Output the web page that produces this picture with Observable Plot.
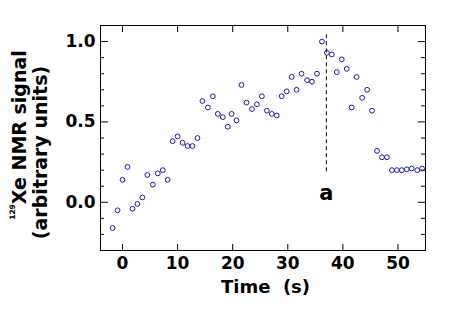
<!DOCTYPE html>
<html><head><meta charset="utf-8">
<script src="https://cdn.jsdelivr.net/npm/d3@7"></script>
<script src="https://cdn.jsdelivr.net/npm/@observablehq/plot@0.6"></script>
<style>body{margin:0;background:#fff}</style>
</head><body><div id="chart"></div>
<script>
const time = [-1.8,-0.9,0,0.9,1.8,2.7,3.6,4.5,5.5,6.4,7.3,8.2,9.1,10,10.9,11.8,12.7,13.6,14.5,15.5,16.4,17.3,18.2,19.1,19.8,20.7,21.6,22.5,23.5,24.4,25.3,26.2,27.1,28.0,28.9,29.8,30.7,31.6,32.5,33.5,34.4,35.3,36.2,37.1,38.0,38.9,39.8,40.7,41.6,42.5,43.5,44.4,45.3,46.2,47.1,48.0,48.9,49.8,50.7,51.6,52.5,53.5,54.4];
const signal = [-0.16,-0.05,0.14,0.22,-0.04,-0.01,0.03,0.17,0.11,0.18,0.20,0.14,0.38,0.41,0.37,0.35,0.35,0.40,0.63,0.59,0.66,0.55,0.53,0.47,0.55,0.51,0.73,0.62,0.58,0.61,0.66,0.57,0.55,0.54,0.66,0.69,0.78,0.70,0.80,0.76,0.75,0.80,1.00,0.93,0.92,0.81,0.89,0.83,0.59,0.78,0.65,0.70,0.57,0.32,0.28,0.28,0.20,0.20,0.20,0.205,0.21,0.20,0.21];
const xTicks = [0,10,20,30,40,50];
const yMajor = [0,0.5,1.0];
const yMinor = [-0.2,-0.1,0.1,0.2,0.3,0.4,0.6,0.7,0.8,0.9];
const markerTime = [37];
const markerFrom = [0.19];
const markerTo = [1.045];
const markerLabel = ["a"];
const markerLabelY = [0.055];
const xTitle = "Time\u00a0 (s)";
const ySup = "129";
const yTitle1 = "Xe NMR signal";
const yTitle2 = "(arbitrary units)";

const W = 452, H = 324, mL = 100, mR = 27, mT = 25, mB = 74;
const fw = W - mL - mR, fh = H - mT - mB;
const font = "'DejaVu Sans', sans-serif";
const data = time.map((t, i) => ({t, s: signal[i]}));
const marker = markerTime.map((t, i) => ({t, y1: markerFrom[i], y2: markerTo[i], label: markerLabel[i], ly: markerLabelY[i]}));

const plot = Plot.plot({
  width: W, height: H,
  marginLeft: mL, marginRight: mR, marginTop: mT, marginBottom: mB,
  x: {domain: [-4, 55]},
  y: {domain: [-0.3, 1.1]},
  style: {fontFamily: font, fontWeight: "bold", fontSize: "17px", color: "black", background: "white"},
  marks: [
    Plot.tickX(xTicks, {x: d => d, insetTop: fh - 6, stroke: "black"}),
    Plot.tickX(xTicks, {x: d => d, insetBottom: fh - 7, stroke: "black"}),
    Plot.tickY(yMajor, {y: d => d, insetRight: fw - 8, stroke: "black"}),
    Plot.tickY(yMajor, {y: d => d, insetLeft: fw - 7, stroke: "black"}),
    Plot.tickY(yMinor, {y: d => d, insetRight: fw - 4, stroke: "black"}),
    Plot.tickY(yMinor, {y: d => d, insetLeft: fw - 4, stroke: "black"}),
    Plot.axisX(xTicks, {tickSize: 0, tickPadding: 6, label: null}),
    Plot.axisY(yMajor, {tickSize: 0, tickPadding: 5, tickFormat: d3.format(".1f"), label: null}),
    Plot.ruleX(marker, {x: "t", y1: "y1", y2: "y2", stroke: "black", strokeDasharray: "4,3"}),
    Plot.text(marker, {x: "t", y: "ly", text: "label", fontSize: 21, lineAnchor: "middle"}),
    Plot.dot(data, {x: "t", y: "s", r: 2.4, stroke: "#1a1aa8", strokeWidth: 1, fill: "none"}),
    Plot.text([xTitle], {frameAnchor: "bottom", dy: 30, dx: 2.5, lineAnchor: "top", fontSize: 18}),
    Plot.frame({stroke: "black"})
  ]
});

const svg = d3.select(plot);
const g = svg.append("g").attr("font-family", font).attr("font-weight", "bold").attr("fill", "black");
const t1 = g.append("text").attr("transform", "translate(26,135) rotate(-90)").attr("text-anchor", "middle").attr("font-size", 19);
t1.append("tspan").attr("font-size", 7.5).attr("dy", -11).text(ySup);
t1.append("tspan").attr("dy", 11).text(yTitle1);
g.append("text").attr("transform", "translate(47,152.5) rotate(-90)").attr("text-anchor", "middle").attr("font-size", 19).text(yTitle2);

document.getElementById("chart").appendChild(plot);
</script>
</body></html>
